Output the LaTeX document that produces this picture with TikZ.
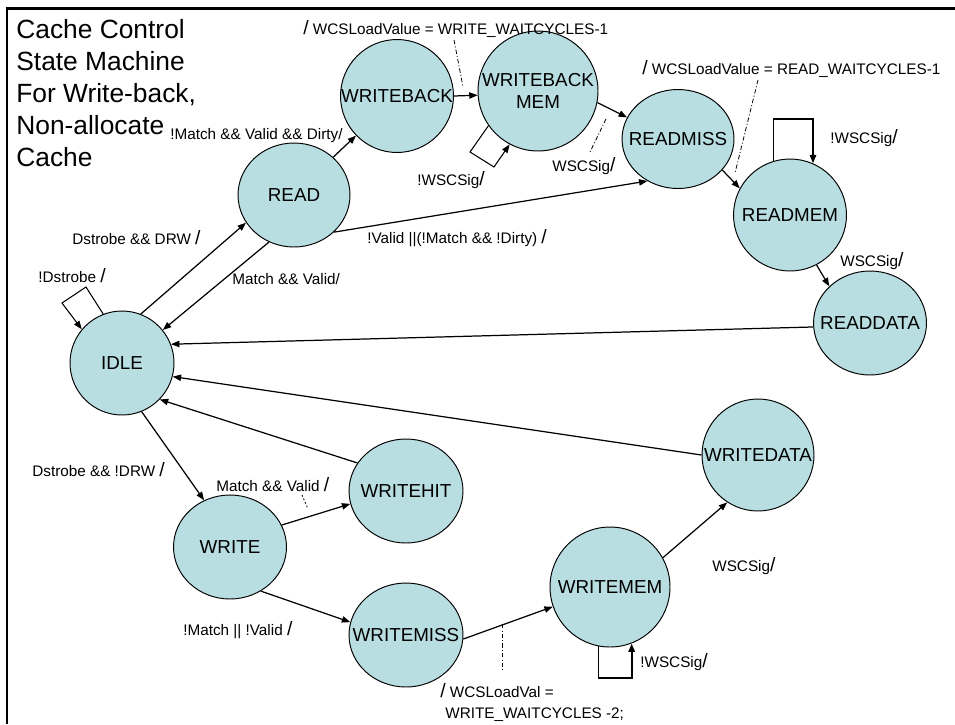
\documentclass[tikz,border=0pt]{standalone}
\usepackage{fontspec}
\setmainfont{Liberation Sans}
\usetikzlibrary{shapes.geometric,arrows.meta}
\definecolor{statefill}{RGB}{184,222,226}
% larger slash used after transition conditions
\newcommand{\sla}{{\fontsize{11}{11}\selectfont/}}

\begin{document}
\begin{tikzpicture}[x=0.02cm,y=-0.02cm,
  state/.style={ellipse, draw=black, line width=0.55pt, fill=statefill,
    inner sep=0pt, label={[statetext]center:#1}},
  statetext/.style={font=\fontsize{10.7}{12.5}\selectfont, align=center, inner sep=0pt},
  edge/.style={line width=0.7pt, -{Triangle[length=4.8pt,width=3.6pt]}},
  loopedge/.style={edge, line width=1.1pt},
  lbl/.style={font=\fontsize{8.7}{10.5}\selectfont, inner sep=0pt, anchor=base west},
  leader/.style={line width=0.45pt, dash pattern=on 2.5pt off 1.2pt on 0.6pt off 1.2pt},
  dotleader/.style={line width=0.45pt, dash pattern=on 1pt off 1.2pt},
]
\useasboundingbox (0,0) rectangle (955,724);

% frame
\draw[line width=1.7pt] (7,724) -- (7,8.5) -- (955,8.5);

% title
\node[font=\fontsize{15}{18.15}\selectfont, align=left, inner sep=0pt, anchor=north west]
  (title) at (16,19) {Cache Control\\State Machine\\For Write-back,\\Non-allocate\\Cache};

% states
\node[state={IDLE},      minimum width=2.08cm, minimum height=2.08cm] (idle)  at (122,363) {};
\node[state={READ},      minimum width=2.24cm, minimum height=2.08cm] (read)  at (294,195) {};
\node[state={WRITEBACK}, minimum width=2.26cm, minimum height=2.26cm] (wb)    at (397,96)  {};
\node[state={WRITEBACK\\MEM}, minimum width=2.4cm, minimum height=2.4cm] (wbm) at (538,91) {};
\node[state={READMISS},  minimum width=2.24cm, minimum height=1.98cm] (rmiss) at (678,139) {};
\node[state={READMEM},   minimum width=2.26cm, minimum height=2.24cm] (rmem)  at (790,215) {};
\node[state={READDATA},  minimum width=2.26cm, minimum height=2.08cm] (rdata) at (870,323) {};
\node[state={WRITE},     minimum width=2.26cm, minimum height=2.08cm] (write) at (230,547) {};
\node[state={WRITEHIT},  minimum width=2.28cm, minimum height=2.08cm] (whit)  at (406,491) {};
\node[state={WRITEMISS}, minimum width=2.28cm, minimum height=2.08cm] (wmiss) at (406,635) {};
\node[state={WRITEMEM},  minimum width=2.4cm,  minimum height=2.4cm]  (wmem)  at (610,587) {};
\node[state={WRITEDATA}, minimum width=2.24cm, minimum height=2.24cm] (wdata) at (758,455) {};

% transitions
\draw[edge] (idle.69) -- (read.210);
\draw[edge] (read.242) -- (idle.39);
\draw[edge] (read.44) -- (wb.224);
\draw[edge] (wb.0) -- (wbm.184);
\draw[edge] (wbm.-11) -- (rmiss.157);
\draw[edge] (read.-43) -- (rmiss.234);
\draw[edge] (rmiss.-35) -- (rmem.152);
\draw[edge] (rmem.-62) -- (rdata.138);
\draw[edge] (rdata.184) -- (idle.21);
\draw[edge] (wdata.180) -- (idle.-15);
\draw[edge] (whit.150) -- (idle.-44);
\draw[edge] (idle.-68) -- (write.119);
\draw[edge] (write.23) -- (whit.193);
\draw[edge] (write.-55) -- (wmiss.167);
\draw[edge] (wmiss.-4) -- (wmem.199);
\draw[edge] (wmem.29) -- (wdata.237);

% self loops
\draw[edge, line width=0.6pt] (idle.111) -- (86,287) -- (62,303) -- (idle.140);
\draw[edge, line width=0.6pt] (wbm.215) -- (470,152) -- (494,167) -- (wbm.242);
\draw[loopedge] (rmem.107) -- ++(0,-42) -| (rmem.66);
\draw[loopedge] (wmem.259) -- ++(0,32) -| (wmem.291);

% leader lines from action texts
\coordinate (ldA1) at (454,40);  \coordinate (ldA2) at (463,87);
\coordinate (ldB1) at (606,119); \coordinate (ldB2) at (590,152);
\coordinate (ldC1) at (758,80);  \coordinate (ldC2) at (735,173);
\coordinate (ldD1) at (302,495); \coordinate (ldD2) at (308,509);
\coordinate (ldE1) at (502,624); \coordinate (ldE2) at (502,671);
\draw[leader] (ldA1) -- (ldA2);
\draw[leader] (ldB1) -- (ldB2);
\draw[leader] (ldC1) -- (ldC2);
\draw[dotleader] (ldD1) -- (ldD2);
\draw[leader] (ldE1) -- (ldE2);

% transition labels
\node[lbl] (lDW)  at (72,244)  {Dstrobe \&\& DRW \sla};
\node[lbl] (lMV)  at (232,284) {Match \&\& Valid/};
\node[lbl] (lnD)  at (38,282)  {!Dstrobe \sla};
\node[lbl] (lVMD) at (367,243) {!Valid ||(!Match \&\& !Dirty) \sla};
\node[lbl] (lMVD) at (170,139) {!Match \&\& Valid \&\& Dirty/};
\node[lbl] (lWBL) at (303,34)  {\sla{} WCSLoadValue = WRITE\_WAITCYCLES-1};
\node[lbl] (lWBs) at (417,185) {!WSCSig\sla};
\node[lbl] (lWBo) at (552,171) {WSCSig\sla};
\node[lbl] (lRML) at (642,74)  {\sla{} WCSLoadValue = READ\_WAITCYCLES-1};
\node[lbl] (lRMs) at (830,143) {!WSCSig\sla};
\node[lbl] (lRMo) at (840,266) {WSCSig\sla};
\node[lbl] (lDnW) at (32,476)  {Dstrobe \&\& !DRW \sla};
\node[lbl] (lWH)  at (216,491) {Match \&\& Valid \sla};
\node[lbl] (lWM)  at (183,635) {!Match || !Valid \sla};
\node[lbl] (lWLa) at (440,697) {\sla{} WCSLoadVal =};
\node[lbl] (lWLb) at (445,718) {WRITE\_WAITCYCLES -2;};
\node[lbl] (lWMs) at (640,667) {!WSCSig\sla};
\node[lbl] (lWMo) at (712,571) {WSCSig\sla};
\end{tikzpicture}
\end{document}
